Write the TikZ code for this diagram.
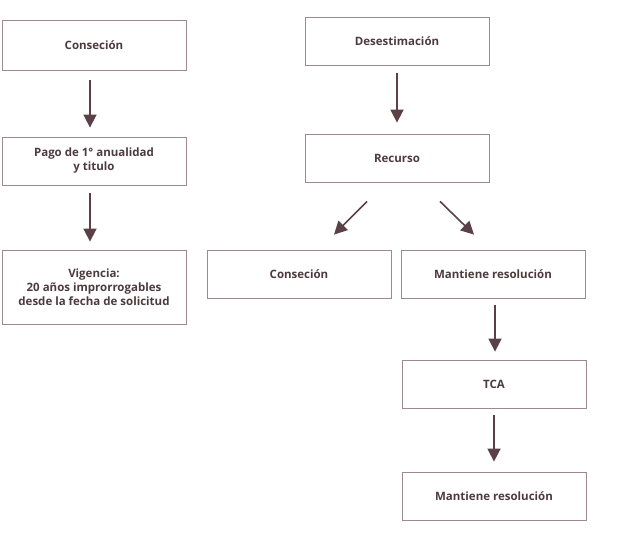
\documentclass[tikz,border=0pt]{standalone}
\usepackage{fontspec}
\setmainfont{Open Sans}
\usetikzlibrary{arrows.meta}
\definecolor{txtc}{HTML}{4D3A3F}
\definecolor{boxc}{HTML}{A08890}
\definecolor{arrc}{HTML}{5B4048}
\tikzset{
    box/.style={draw=boxc,thick,minimum width=184pt,minimum height=48pt,inner sep=2pt,
        align=center,text=txtc,font=\fontsize{11.5}{14}\selectfont\bfseries},
    flow/.style={draw=arrc,line width=1.6pt,-{Triangle[width=13pt,length=13pt]}}
}
\begin{document}
\begin{tikzpicture}[x=1pt,y=-1pt]
    \useasboundingbox (0,0) rectangle (630,544);
    % left column
    \node[box,minimum height=50pt] (con1) at (94,45) {Conseción};
    \node[box] (pago) at (94,161) {Pago de 1° anualidad\\y titulo};
    \node[box,minimum height=74pt] (vig) at (94,287) {Vigencia:\\20 años improrrogables\\desde la fecha de solicitud};
    \draw[flow] ([xshift=-4pt,yshift=-10pt]con1.south) -- ([xshift=-4pt,yshift=9pt]pago.north);
    \draw[flow] ([xshift=-4pt,yshift=-8pt]pago.south) -- ([xshift=-4pt,yshift=8pt]vig.north);
    % right column
    \node[box] (des) at (397,41) {Desestimación};
    \node[box] (rec) at (397,158) {Recurso};
    \node[box] (con2) at (299,274) {Conseción};
    \node[box] (man1) at (493,274) {Mantiene resolución};
    \node[box] (tca) at (494,384) {TCA};
    \node[box] (man2) at (494,496) {Mantiene resolución};
    \draw[flow] ([yshift=-8pt]des.south) -- ([yshift=11pt]rec.north);
    \draw[flow] ([xshift=-30pt,yshift=-19pt]rec.south) -- ([xshift=35pt,yshift=15pt]con2.north);
    \draw[flow] ([xshift=43pt,yshift=-19pt]rec.south) -- ([xshift=-19pt,yshift=15pt]man1.north);
    \draw[flow] ([xshift=2pt,yshift=-7pt]man1.south) -- ([xshift=1pt,yshift=8pt]tca.north);
    \draw[flow] ([yshift=-7pt]tca.south) -- ([yshift=10pt]man2.north);
\end{tikzpicture}
\end{document}
